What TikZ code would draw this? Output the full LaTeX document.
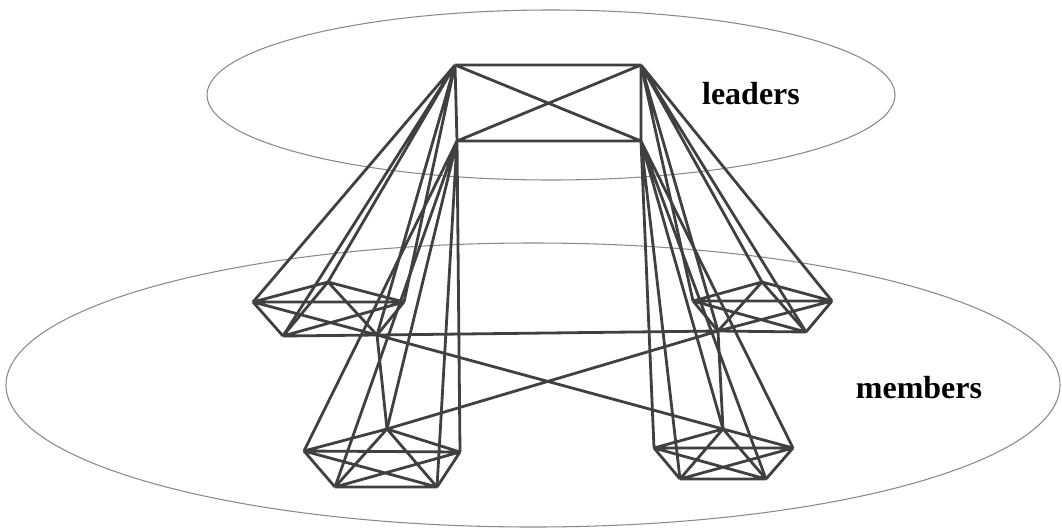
\documentclass[tikz,border=0pt]{standalone}
\usepackage{fontspec}
\setmainfont{Liberation Serif}
\usepackage{tikz}
\definecolor{edgegray}{HTML}{404040}
\definecolor{ringgray}{HTML}{8A8A8A}

\begin{document}
\begin{tikzpicture}[
  x=0.75pt,y=-0.75pt,
  link/.style={draw=edgegray,line width=2.1pt,line join=round},
  layer/.style={draw=ringgray,line width=0.8pt},
  tag/.style={font=\fontsize{24}{28}\selectfont\bfseries,inner sep=0pt}
]
\useasboundingbox (0,0) rectangle (1062,529);
% the two layers
\draw[layer] (551,95) ellipse [x radius=344,y radius=85];
\draw[layer] (533,385) ellipse [x radius=527,y radius=142];
\node[tag] (leaders) at (751,94) {leaders};
\node[tag] (members) at (919,388) {members};
% leaders
\coordinate (ltl) at (455,65); \coordinate (ltr) at (641,65);
\coordinate (lbl) at (457,141); \coordinate (lbr) at (641,141);
% member groups
\coordinate (tla) at (253,302); \coordinate (tlb) at (328,282); \coordinate (tlc) at (404,302);
\coordinate (tld) at (283,336); \coordinate (tle) at (377,335);
\coordinate (tra) at (693,301); \coordinate (trb) at (762,282); \coordinate (trc) at (832,301);
\coordinate (trd) at (718,331); \coordinate (tre) at (806,332);
\coordinate (bla) at (304,451); \coordinate (blb) at (387,429); \coordinate (blc) at (460,452);
\coordinate (bld) at (335,487); \coordinate (ble) at (437,487);
\coordinate (bra) at (654,448); \coordinate (brb) at (723,429); \coordinate (brc) at (793,448);
\coordinate (brd) at (680,479); \coordinate (bre) at (766,479);
% leader block
\draw[link] (ltl)--(ltr) (ltl)--(lbl) (ltr)--(lbr) (lbl)--(lbr) (ltl)--(lbr) (ltr)--(lbl);
% groups
\draw[link] (tla)--(tlb) (tla)--(tlc) (tla)--(tld) (tla)--(tle) (tlb)--(tlc) (tlb)--(tld) (tlb)--(tle) (tlc)--(tld) (tlc)--(tle) (tld)--(tle);
\draw[link] (tra)--(trb) (tra)--(trc) (tra)--(trd) (tra)--(tre) (trb)--(trc) (trb)--(trd) (trb)--(tre) (trc)--(trd) (trc)--(tre) (trd)--(tre);
\draw[link] (bla)--(blb) (bla)--(blc) (bla)--(bld) (bla)--(ble) (blb)--(blc) (blb)--(bld) (blb)--(ble) (blc)--(bld) (blc)--(ble) (bld)--(ble);
\draw[link] (bra)--(brb) (bra)--(brc) (bra)--(brd) (bra)--(bre) (brb)--(brc) (brb)--(brd) (brb)--(bre) (brc)--(brd) (brc)--(bre) (brd)--(bre);
% leader to its group
\draw[link] (ltl)--(tla) (ltl)--(tlb) (ltl)--(tlc) (ltl)--(tld) (ltl)--(tle);
\draw[link] (ltr)--(tra) (ltr)--(trb) (ltr)--(trc) (ltr)--(trd) (ltr)--(tre);
\draw[link] (lbl)--(bla) (lbl)--(blb) (lbl)--(blc) (lbl)--(bld) (lbl)--(ble);
\draw[link] (lbr)--(bra) (lbr)--(brb) (lbr)--(brc) (lbr)--(brd) (lbr)--(bre);
% between groups
\draw[link] (tle)--(trd) (tle)--(brb) (trd)--(blb) (tle)--(blb) (trd)--(brb);
\end{tikzpicture}
\end{document}
